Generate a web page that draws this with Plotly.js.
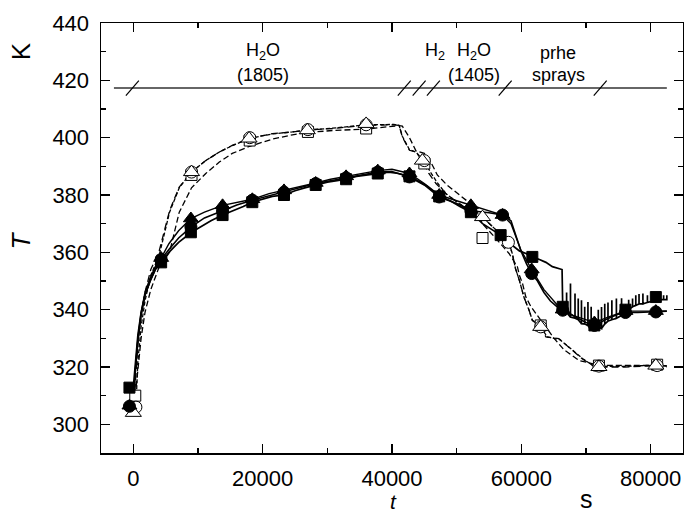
<!DOCTYPE html>
<html>
<head>
<meta charset="utf-8">
<script src="https://cdn.plot.ly/plotly-3.0.1.min.js"></script>
<style>html,body{margin:0;padding:0;background:#fff;}#chart{width:684px;height:515px;}</style>
</head>
<body>
<div id="chart"></div>
<script>
// ---------- data ----------
// filled square
const fsX = [0,300,700,1200,1800,2600,3400,4300,5500,7000,9000,10500,12000,13800,15500,17000,18400,20000,21500,23300,25000,26500,28200,30000,31500,32900,34500,36000,37800,39500,41000,42700,44000,45500,47300,49000,50500,52200,54000,55500,56800,58300,59700,60800,61700,62800,63800,64800,66300];
const fsY = [313,322,331,339,345,350,354,356.5,360,363.5,367,369,371,373,374.5,376,377.5,378.5,379.5,380,381.5,382.5,383.5,384.5,385,385.5,386.5,387,387.5,388,387.5,386.5,385,383,379.5,378,376,374,370,368,366,363,360.5,359.5,358.4,357.5,356.5,355,354];
// filled square tail: spikes (position, base, top)
const fsSpikeX    = [66400,67000,67600,68300,68800,69300,69800,70300,70800,71300,71900,72400,72900,73400,74000,74700,75500,76100,76600,77200,77700,78200,78800,79500,80300,80800,81400,82000,82500];
const fsSpikeBase = [341,339,337.4,337,336.5,335.1,335,334.5,334,334.5,334,333.4,335,336,336.5,337,338,339,340,341,341.5,342,342,342.5,343,344,343.5,343.5,343.5];
const fsSpikeTop  = [341,346,349.1,345.6,343.9,343.3,341,342.7,341,334.5,340,340.9,342.1,342.5,343.3,343.9,344,341,343.5,343.9,345,345.5,345.6,345,345.5,344,345,345,345];
// filled circle
const fcX = [0,300,700,1200,1800,2600,3400,4300,5500,7000,9000,11000,13800,16000,18400,21000,23300,26000,28200,30500,32900,35500,37800,40000,42700,45000,47300,50000,52200,55000,57100,58400,59900,60800,61600,62500,63500,64500,65800,66400,68000,70000,71300,73000,75000,76100,78000,80800,82500];
const fcY = [306,318,329,338,345,350,354,357.5,361,365,369,372,374.5,376.5,378.2,379.8,381,382.8,384,385,386,387,388,388.2,386.3,383.5,379.3,377,374.5,373.8,373,371,360.7,356,352.6,350,346,343,340.5,339.8,338,335.5,334.5,336.5,338.5,339,339,339.2,339.5];
// filled triangle
const ftX = [0,300,700,1200,1800,2600,3400,4300,5500,7000,8900,11000,13800,16000,18400,21000,23300,26000,28200,30500,32900,35500,37800,40000,42700,45000,47300,50000,52200,55000,57100,58400,59900,61600,63500,65800,66400,68000,71300,73500,76100,78500,80800,82500];
const ftY = [306.5,319,330,339,346,351,355,358,363,367.5,371.8,374,376.4,377.5,378.5,380.5,381.6,383,384.2,385.5,386.5,387.5,388.5,389,387.5,384,380,378,376.4,374.5,373,370,361,354,347,341,340,338,335.5,337.5,339.5,339.5,339.5,339.5];
// open triangle
const otX = [0,300,700,1200,1800,2700,4000,5600,7100,9000,11200,13300,15300,17900,21500,24600,26900,30800,36000,40300,41100,41600,42700,43700,44700,45700,46800,48300,50400,52400,54000,56000,58100,58600,59100,59700,60400,61200,61700,63000,63800,65800,67900,69400,71000,72000,76000,80800,82500];
const otY = [304,316,328,338,346,354,360.5,374.5,382.8,388,392,395,397.3,399.7,401.4,402,402.6,403.2,404.3,404.5,404.3,400.2,395.6,395,392,387.5,384,380.5,377,374,372.3,368,363.3,359.6,354.3,350.2,344.4,339.8,336.3,334,330.5,329.9,325.8,322.9,320.6,320,320,320.5,320];
// open square
const osX = [300,700,1200,1800,2700,4000,5600,7100,9000,11200,13300,15300,18000,21500,24600,27000,30800,36000,40300,41100,41600,42700,43700,45000,46000,47000,48500,50500,52400,53300,54000,56000,58100,59400,59700,60200,60700,61500,63000,63800,65100,66600,68900,72000,76000,81000,82500];
const osY = [310,320,330,339,347,355,360,374,382.5,387.5,391.5,394.5,397,399.5,401,401.8,402.5,403,404,404.2,404,400,395.4,394.5,391.5,387,383.5,380,376.5,373.5,370,365,359.6,354.9,352,349,344.4,341,336.3,334,329.9,326,322.3,320.6,320.5,320.5,320.5,320.5];
// open circle
const ocX = [400,700,1200,1800,2700,4000,5600,7100,9000,11200,13300,15300,18000,21500,24600,27000,30800,36000,40300,41100,41600,42700,43700,45000,46000,47000,48300,50400,52400,54000,56000,58000,58600,59100,59700,60400,61200,61700,63000,64000,66000,68000,69500,71000,72000,76000,81000,82500];
const ocY = [306,322,334,343,352,359,374,382.5,388,392,395,397.2,399.8,401.3,402,402.7,403.3,404.5,404.6,404.3,400.5,395.8,395,391.7,387.8,384.3,380.5,377,374,372.3,368,363.5,359.6,354.3,350.2,344.4,339.8,336.3,334,330.5,329.5,325.8,322.9,320.6,320.2,320.2,320.7,320.2];

// marker positions
const fsMX = [-600,4300,8900,13800,18400,23300,28200,32900,37800,42700,47300,52200,56800,61700,66400,71300,76100,80800];
const fsMY = [312.8,356.5,367,373,377.5,380,383.5,385.5,387.5,386.5,379.5,374,366,358.4,341,334.5,340,344.4];
const fcMX = [-600,4300,8900,13800,18400,23300,28200,32900,37800,42700,47300,52200,57100,61600,66400,71300,76100,80800];
const fcMY = [306.3,357.5,369,374.5,378.2,381,384,386,388,386.3,379.3,374.5,373,352.6,339.8,334.5,339,339.2];
const ftMX = [-600,4300,8900,13800,18400,23300,28200,32900,37800,42700,47300,52200,57100,61600,66400,71300,76100,80800];
const ftMY = [306.5,358,371.8,376.4,378.5,381.6,384.2,386.5,388.5,387.5,380,376.4,373,354,340,335.5,339.5,339.5];
const otMX = [0,9000,17900,26900,36000,44700,54000,63000,72000,80800];
const otMY = [304,388,399.7,402.6,404.8,392,372.3,334,320,320.5];
const osMX = [300,9000,18000,27000,36000,45000,54000,63000,72000,81000];
const osMY = [310,387,399,402,403.2,391,365,334.5,320.5,320.8];
const ocMX = [400,9000,18000,27000,36000,45000,58000,63000,72000,81000];
const ocMY = [306,388,400,402.8,404.5,392,363.5,334,320.3,320.5];

// annotation bar
const barY = 417.3;
const barX = [-3000, 82500];
const slashX = [-150, 41900, 44200, 46400, 57500, 72200];
const labels = [
  {x: 20000, y: 430.0, text: 'H<sub>2</sub>O'},
  {x: 20000, y: 421.9, text: '(1805)'},
  {x: 46700, y: 430.0, text: 'H<sub>2</sub>'},
  {x: 52700, y: 430.0, text: 'H<sub>2</sub>O'},
  {x: 52700, y: 421.9, text: '(1405)'},
  {x: 65700, y: 429.4, text: 'prhe'},
  {x: 65700, y: 421.9, text: 'sprays'}
];

const xTicks = [0, 20000, 40000, 60000, 80000];
const yTicks = [300, 320, 340, 360, 380, 400, 420, 440];

// ---------- build traces ----------
const fsFullX = fsX.slice(), fsFullY = fsY.slice();
for (let i = 0; i < fsSpikeX.length; i++) {
  fsFullX.push(fsSpikeX[i], fsSpikeX[i], fsSpikeX[i]);
  fsFullY.push(fsSpikeBase[i], fsSpikeTop[i], fsSpikeBase[i]);
}

function line(x, y, dash, w) {
  return {x: x, y: y, type: 'scatter', mode: 'lines', hoverinfo: 'skip',
          line: {color: '#000', width: w || 1.4, dash: dash || 'solid'}, showlegend: false};
}
function marks(x, y, symbol, size, fill) {
  return {x: x, y: y, type: 'scatter', mode: 'markers', showlegend: false,
          marker: {symbol: symbol, size: size, color: fill, line: {color: '#000', width: 1}}};
}

const traces = [
  line(osX, osY, '6px,3px', 1.3),
  line(ocX, ocY, '4px,2px', 1.3),
  line(otX, otY, '7px,4px', 1.3),
  line(fsFullX, fsFullY, 'solid', 1.7),
  line(fcX, fcY, 'solid', 1.6),
  line(ftX, ftY, 'solid', 1.4),
  marks(osMX, osMY, 'square', 11, '#fff'),
  marks(ocMX, ocMY, 'circle', 12, '#fff'),
  marks(otMX, otMY, 'triangle-up', 14, '#fff'),
  marks(fsMX, fsMY, 'square', 11, '#000'),
  marks(fcMX, fcMY, 'circle', 12, '#000'),
  marks(ftMX, ftMY, 'triangle-up', 13, '#000')
];

const shapes = [{type: 'line', xref: 'x', yref: 'y', x0: barX[0], x1: barX[1], y0: barY, y1: barY,
                 line: {color: '#333', width: 1.5}}];
slashX.forEach(function (sx) {
  shapes.push({type: 'line', xref: 'x', yref: 'y', x0: sx - 1000, x1: sx + 1000,
               y0: barY - 2.6, y1: barY + 2.6, line: {color: '#000', width: 1.2}});
});

const font = 'Liberation Sans, Arial, sans-serif';
const annotations = labels.map(function (l) {
  return {x: l.x, y: l.y, xref: 'x', yref: 'y', text: l.text, showarrow: false,
          xanchor: 'center', yanchor: 'middle', font: {family: font, size: 18, color: '#000'}};
});
annotations.push(
  {xref: 'paper', yref: 'paper', x: -0.137, y: 0.495, text: '<i>T</i>', showarrow: false, textangle: -90,
   xanchor: 'center', yanchor: 'middle', font: {family: font, size: 26, color: '#000'}},
  {xref: 'paper', yref: 'paper', x: -0.137, y: 0.935, text: 'K', showarrow: false, textangle: -90,
   xanchor: 'center', yanchor: 'middle', font: {family: font, size: 26, color: '#000'}},
  {xref: 'paper', yref: 'paper', x: 0.502, y: -0.144, text: '<i>t</i>', showarrow: false,
   xanchor: 'center', yanchor: 'bottom', font: {family: font, size: 21, color: '#000'}},
  {xref: 'paper', yref: 'paper', x: 0.835, y: -0.108, text: 's', showarrow: false,
   xanchor: 'center', yanchor: 'middle', font: {family: font, size: 25, color: '#000'}}
);

const axisCommon = {
  showgrid: false, zeroline: false, showline: true, linecolor: '#000', linewidth: 1.5,
  mirror: 'allticks', ticks: 'inside', ticklen: 9, tickwidth: 1.3, tickcolor: '#000',
  tickfont: {family: font, size: 22, color: '#000'}
};

const layout = {
  width: 684, height: 515,
  margin: {l: 101, r: 1, t: 23, b: 62},
  paper_bgcolor: '#fff', plot_bgcolor: '#fff',
  showlegend: false,
  xaxis: Object.assign({}, axisCommon, {
    range: [-5000, 85000], tickvals: xTicks, ticktext: xTicks.map(String),
    minor: {dtick: 10000, tick0: 0, ticks: 'inside', ticklen: 5, tickcolor: '#000', tickwidth: 1.2},
    ticklabelstandoff: 5
  }),
  yaxis: Object.assign({}, axisCommon, {
    range: [290, 440], tickvals: yTicks, ticktext: yTicks.map(String),
    minor: {dtick: 10, tick0: 290, ticks: 'inside', ticklen: 5, tickcolor: '#000', tickwidth: 1.2},
    ticklabelstandoff: 6
  }),
  shapes: shapes,
  annotations: annotations
};

Plotly.newPlot('chart', traces, layout, {displayModeBar: false, staticPlot: true});
</script>
</body>
</html>
